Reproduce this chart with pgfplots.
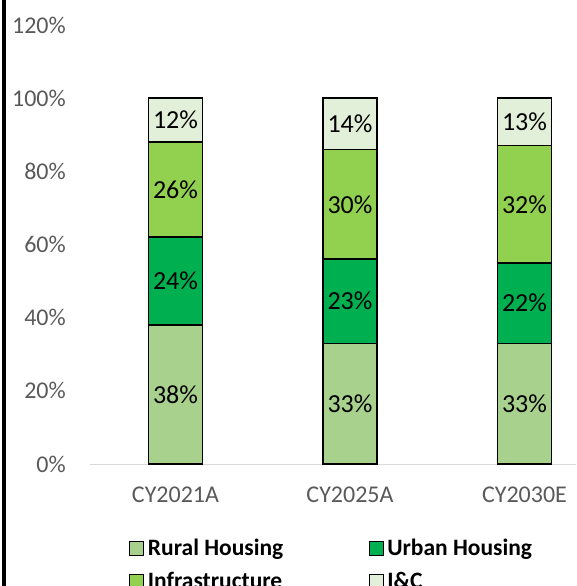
\documentclass[border=0pt]{standalone}
\usepackage{pgfplots}
\pgfplotsset{compat=1.18}
\usepackage{fontspec}
\setmainfont{Carlito}
\definecolor{rural}{HTML}{A9D18E}
\definecolor{urban}{HTML}{00B050}
\definecolor{infra}{HTML}{92D050}
\definecolor{ic}{HTML}{E2F0D9}
\definecolor{tickgray}{HTML}{595959}
\definecolor{axgray}{HTML}{D9D9D9}
\begin{document}
\begin{tikzpicture}[x=1pt,y=1pt]
\begin{axis}[
  at={(90pt,122pt)}, anchor=south west,
  scale only axis, width=486pt, height=439pt,
  ybar stacked, bar width=54pt,
  xmin=-0.49, xmax=2.295, ymin=0, ymax=120,
  xtick={0,1,2}, xticklabels={CY2021A,CY2025A,CY2030E},
  ytick={0,20,40,60,80,100,120},
  yticklabels={0\%,20\%,40\%,60\%,80\%,100\%,120\%},
  /pgf/number format/assume math mode=true,
  axis x line*=bottom, axis y line*=left,
  x axis line style={draw=axgray, line width=1pt},
  y axis line style={draw=none},
  major tick length=0pt,
  tick label style={font=\fontsize{24}{28}\selectfont, text=tickgray},
  yticklabel style={inner sep=0pt, xshift=-24pt},
  xticklabel style={inner sep=0pt, anchor=center, yshift=-31pt},
  every axis plot/.append style={draw=black, line width=1.5pt},
  nodes near coords={\pgfmathprintnumber{\pgfplotspointmeta}\%},
  every node near coord/.append style={font=\fontsize{26}{30}\selectfont, text=black, anchor=center},
  legend columns=2,
  legend cell align=left,
  legend style={draw=none, fill=none, at={(0.499,-0.2295)}, anchor=center,
    font=\fontsize{23.5}{27}\selectfont\bfseries, inner sep=0pt,
    nodes={inner sep=3.5pt},
    /tikz/every even column/.append style={column sep=82pt},
    row sep=8pt},
  legend image code/.code={\draw[#1,draw=black,line width=1pt] (0pt,-7pt) rectangle (14pt,7pt);},
]
\addplot[fill=rural] coordinates {(0,38) (1,33) (2,33)};
\addplot[fill=urban] coordinates {(0,24) (1,23) (2,22)};
\addplot[fill=infra] coordinates {(0,26) (1,30) (2,32)};
\addplot[fill=ic] coordinates {(0,12) (1,14) (2,13)};
\legend{Rural Housing, Urban Housing, Infrastructure, I\&C}
\end{axis}
\draw[line width=4pt] (4,0) -- (4,586);
\pgfresetboundingbox
\useasboundingbox (0,0) rectangle (576,586);
\end{tikzpicture}
\end{document}
